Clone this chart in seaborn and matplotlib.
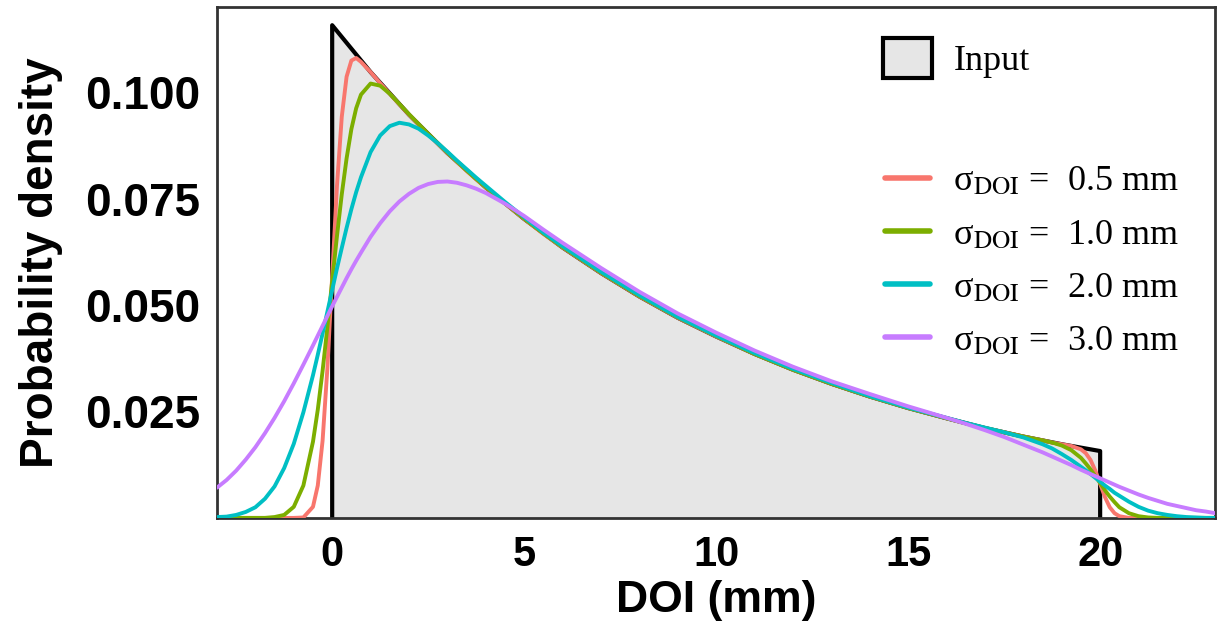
import numpy as np
import pandas as pd
import matplotlib
matplotlib.use('Agg')
import matplotlib.pyplot as plt
from matplotlib.patches import Patch
from matplotlib.lines import Line2D
import seaborn as sns

# input depth distribution (outline: up at 0, down at 20)
input_x = [0, 0, 1, 2, 3, 4, 5, 6, 7, 8, 9, 10, 11, 12, 13, 14, 15, 16, 17, 18, 19, 20, 20]
input_y = [0, 0.1157, 0.1047, 0.0947, 0.0857, 0.0776, 0.0702, 0.0635, 0.0575, 0.0520, 0.0470,
           0.0426, 0.0385, 0.0348, 0.0315, 0.0285, 0.0258, 0.0234, 0.0211, 0.0191, 0.0173, 0.0157, 0]

# blurred curves
doi = [-3, -2.75, -2.5, -2.25, -2, -1.75, -1.5, -1.25, -1, -0.75,
       -0.5, -0.375, -0.25, -0.125, 0, 0.125, 0.25, 0.375, 0.5, 0.625,
       0.75, 1, 1.25, 1.5, 1.75, 2, 2.25, 2.5, 2.75, 3,
       3.25, 3.5, 3.75, 4, 4.5, 5, 5.5, 6, 7, 8,
       9, 10, 11, 12, 13, 14, 15, 16, 16.5, 17,
       17.5, 18, 18.5, 18.75, 19, 19.25, 19.5, 19.625, 19.75, 19.875,
       20, 20.125, 20.25, 20.375, 20.5, 20.75, 21, 21.25, 21.5, 21.75,
       22, 22.25, 22.5, 22.75, 23]
sig05 = [0, 0, 0, 0, 0, 0, 0, 0, 0, 0.0001,
         0.0026, 0.0076, 0.0181, 0.0351, 0.0567, 0.0780, 0.0942, 0.1036, 0.1074, 0.1080,
         0.1071, 0.1047, 0.1021, 0.0996, 0.0971, 0.0947, 0.0924, 0.0901, 0.0879, 0.0857,
         0.0836, 0.0815, 0.0795, 0.0776, 0.0738, 0.0702, 0.0667, 0.0635, 0.0575, 0.0520,
         0.0470, 0.0426, 0.0385, 0.0348, 0.0315, 0.0285, 0.0258, 0.0234, 0.0222, 0.0211,
         0.0201, 0.0191, 0.0182, 0.0177, 0.0173, 0.0169, 0.0161, 0.0152, 0.0136, 0.0111,
         0.0080, 0.0049, 0.0025, 0.0011, 0.0004, 0, 0, 0, 0, 0,
         0, 0, 0, 0, 0]
sig10 = [0, 0, 0, 0, 0, 0, 0.0002, 0.0007, 0.0026, 0.0076,
         0.0179, 0.0254, 0.0345, 0.0448, 0.0556, 0.0662, 0.0760, 0.0844, 0.0913, 0.0962,
         0.0994, 0.1020, 0.1015, 0.0996, 0.0972, 0.0948, 0.0925, 0.0902, 0.0880, 0.0858,
         0.0837, 0.0816, 0.0796, 0.0777, 0.0739, 0.0703, 0.0668, 0.0636, 0.0576, 0.0521,
         0.0471, 0.0427, 0.0385, 0.0348, 0.0315, 0.0285, 0.0258, 0.0234, 0.0222, 0.0211,
         0.0201, 0.0191, 0.0182, 0.0177, 0.0170, 0.0159, 0.0141, 0.0128, 0.0114, 0.0098,
         0.0082, 0.0065, 0.0050, 0.0037, 0.0025, 0.0011, 0.0004, 0.0001, 0, 0,
         0, 0, 0, 0, 0]
sig20 = [0.0002, 0.0003, 0.0007, 0.0014, 0.0025, 0.0045, 0.0074, 0.0117, 0.0174, 0.0248,
         0.0335, 0.0383, 0.0433, 0.0484, 0.0535, 0.0586, 0.0634, 0.0681, 0.0725, 0.0765,
         0.0800, 0.0859, 0.0898, 0.0920, 0.0928, 0.0924, 0.0914, 0.0898, 0.0880, 0.0860,
         0.0839, 0.0819, 0.0799, 0.0780, 0.0742, 0.0706, 0.0670, 0.0638, 0.0578, 0.0523,
         0.0472, 0.0428, 0.0387, 0.0350, 0.0317, 0.0286, 0.0259, 0.0235, 0.0223, 0.0212,
         0.0201, 0.0189, 0.0173, 0.0163, 0.0150, 0.0136, 0.0120, 0.0112, 0.0103, 0.0094,
         0.0085, 0.0076, 0.0068, 0.0059, 0.0052, 0.0038, 0.0026, 0.0017, 0.0011, 0.0007,
         0.0004, 0.0002, 0.0001, 0, 0]
sig30 = [0.0071, 0.0089, 0.0111, 0.0137, 0.0166, 0.0199, 0.0235, 0.0274, 0.0316, 0.0360,
         0.0405, 0.0428, 0.0451, 0.0474, 0.0497, 0.0519, 0.0541, 0.0563, 0.0584, 0.0604,
         0.0623, 0.0660, 0.0692, 0.0720, 0.0743, 0.0761, 0.0775, 0.0784, 0.0789, 0.0790,
         0.0787, 0.0781, 0.0773, 0.0763, 0.0738, 0.0709, 0.0677, 0.0646, 0.0587, 0.0531,
         0.0480, 0.0435, 0.0393, 0.0355, 0.0321, 0.0291, 0.0262, 0.0235, 0.0221, 0.0206,
         0.0190, 0.0172, 0.0154, 0.0144, 0.0134, 0.0124, 0.0113, 0.0108, 0.0103, 0.0098,
         0.0093, 0.0088, 0.0083, 0.0078, 0.0073, 0.0064, 0.0055, 0.0047, 0.0040, 0.0033,
         0.0028, 0.0023, 0.0018, 0.0015, 0.0011]

labels = ['0.5', '1.0', '2.0', '3.0']
colores = ['#F8766D', '#7CAE00', '#00BFC4', '#C77CFF']

df = pd.concat([pd.DataFrame({'DOI': doi, 'dens': s, 'sigma': lab})
                for s, lab in zip([sig05, sig10, sig20, sig30], labels)], ignore_index=True)

sns.set_style('white')
plt.rcParams['font.family'] = ['Liberation Sans', 'DejaVu Sans']
plt.rcParams['mathtext.fontset'] = 'stix'
plt.rcParams['text.color'] = 'black'
plt.rcParams['axes.labelcolor'] = 'black'
plt.rcParams['xtick.labelcolor'] = 'black'
plt.rcParams['ytick.labelcolor'] = 'black'

fig, ax = plt.subplots(figsize=(12.19, 6.27), dpi=100)
fig.subplots_adjust(left=0.178, right=0.997, top=0.989, bottom=0.174)

ax.fill_between(input_x, input_y, color='#E6E6E6', lw=0, zorder=1)
ax.plot(input_x, input_y, color='black', lw=3, zorder=2)

sns.lineplot(data=df, x='DOI', y='dens', hue='sigma', palette=colores, lw=2.8,
             estimator=None, sort=False, legend=False, ax=ax, zorder=3)
for ln in ax.lines:
    ln.set_solid_joinstyle('round')

ax.set_xlim(-3, 23)
ax.set_ylim(0, 0.12)
ax.set_xticks([0, 5, 10, 15, 20])
ax.set_yticks([0.025, 0.05, 0.075, 0.1])
ax.set_yticklabels(['0.025', '0.050', '0.075', '0.100'])
for t in ax.get_xticklabels():
    t.set_fontsize(30)
    t.set_fontweight('bold')
for t in ax.get_yticklabels():
    t.set_fontsize(33)
    t.set_fontweight('bold')
ax.tick_params(direction='in', length=9, width=1.8, color='#333333', pad=12)
for sp in ax.spines.values():
    sp.set_color('#333333')
    sp.set_linewidth(2)

ax.set_xlabel('DOI (mm)', fontsize=32, fontweight='bold', labelpad=4)
ax.set_ylabel('Probability density', fontsize=33, fontweight='bold', labelpad=16)

leg1 = ax.legend(handles=[Patch(facecolor='#E6E6E6', edgecolor='black', linewidth=3)],
                 labels=['Input'], loc='upper left', bbox_to_anchor=(0.667, 0.94),
                 frameon=False, prop={'family': 'Liberation Serif', 'size': 26},
                 handlelength=1.35, handleheight=1.35, handletextpad=0.6,
                 borderpad=0, borderaxespad=0)
ax.add_artist(leg1)

handles = [Line2D([], [], color=c, lw=4) for c in colores]
textos = ['σ$_{\\mathrm{DOI}}$ =  ' + l + ' mm' for l in labels]
ax.legend(handles=handles, labels=textos, loc='upper left', bbox_to_anchor=(0.669, 0.69),
          frameon=False, prop={'family': 'Liberation Serif', 'size': 26},
          handlelength=1.25, handletextpad=0.65, labelspacing=0.55,
          borderpad=0, borderaxespad=0)

fig.savefig('out.png', dpi=100)
